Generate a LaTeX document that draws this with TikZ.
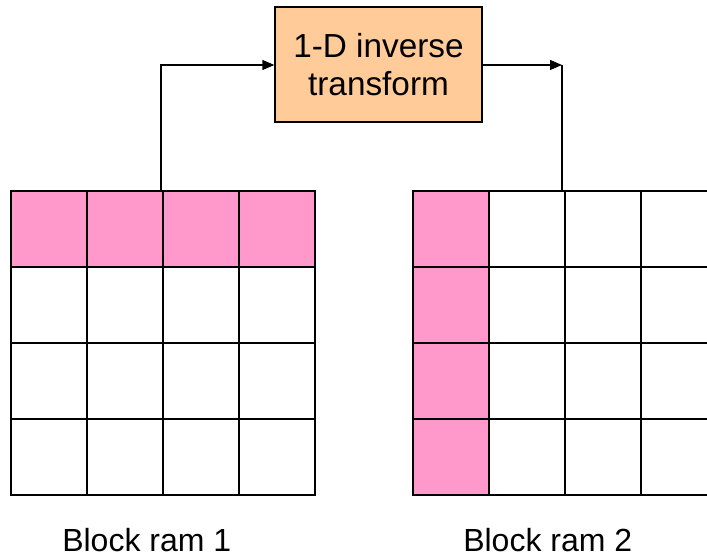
\documentclass[tikz,border=0pt]{standalone}
\usepackage{fontspec}
\setmainfont{Liberation Sans}
\usetikzlibrary{arrows.meta}
\definecolor{cellpink}{HTML}{FF99CC}
\definecolor{boxorange}{HTML}{FFCC99}
\tikzset{
  cell/.style={draw=black, line width=1pt, fill=white, minimum width=57pt, minimum height=57pt, inner sep=0pt, outer sep=0pt},
  pinkcell/.style={cell, fill=cellpink},
  procbox/.style={draw=black, line width=1pt, fill=boxorange, minimum width=155.25pt, minimum height=86.25pt, align=center, inner sep=0pt, font=\fontsize{25}{29}\selectfont},
  conn/.style={line width=1pt, draw=black},
  arr/.style={conn, -{Triangle[length=9pt,width=7.5pt]}},
  lbl/.style={font=\fontsize{24}{28}\selectfont, inner sep=0pt, anchor=base west}
}
\begin{document}
\begin{tikzpicture}[x=0.75pt,y=-0.75pt]
\useasboundingbox (0,0) rectangle (707,559);
\clip (0,0) rectangle (707,559);
% grid 1 (top row pink)
\foreach \r in {0,1,2,3}{
  \foreach \c in {0,1,2,3}{
    \ifnum\r=0
      \node[pinkcell] (a\r\c) at ({49+76*\c},{229+76*\r}) {};
    \else
      \node[cell] (a\r\c) at ({49+76*\c},{229+76*\r}) {};
    \fi
  }
}
% grid 2 (left column pink)
\foreach \r in {0,1,2,3}{
  \foreach \c in {0,1,2,3}{
    \ifnum\c=0
      \node[pinkcell] (b\r\c) at ({451+76*\c},{229+76*\r}) {};
    \else
      \node[cell] (b\r\c) at ({451+76*\c},{229+76*\r}) {};
    \fi
  }
}
% transform box
\node[procbox] (tf) at (378.5,64.5) {1-D inverse\\transform};
% connectors
\coordinate (g1top) at (161,191);
\coordinate (g2top) at (562,191);
\coordinate (c1) at (161,65);
\coordinate (c2) at (562,65);
\draw[arr] (g1top) -- (c1) -- (tf.west |- c1);
\draw[arr] (tf.east |- c2) -- (c2);
\draw[conn] (c2) -- (g2top);
% labels
\node[lbl] (l1) at (62,551) {Block ram 1};
\node[lbl] (l2) at (463,551) {Block ram 2};
\end{tikzpicture}
\end{document}
